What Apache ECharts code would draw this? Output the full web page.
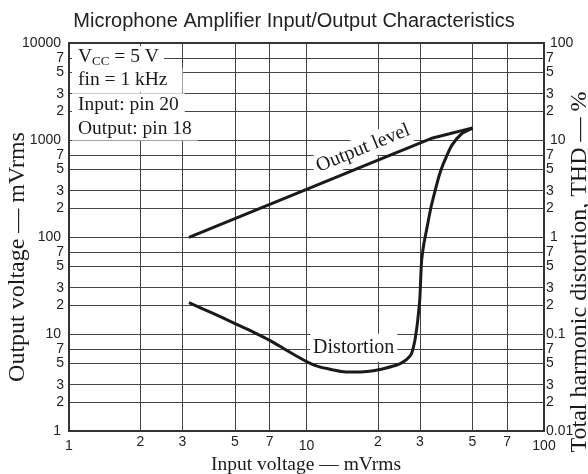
<!DOCTYPE html>
<html>
<head>
<meta charset="utf-8">
<script src="https://cdn.jsdelivr.net/npm/echarts@6/dist/echarts.min.js"></script>
<style>
  html, body { margin: 0; padding: 0; background: #fff; }
  #chart { width: 588px; height: 474px; }
</style>
</head>
<body>
<div id="chart"></div>
<script>
// Output level: input voltage (mVrms) -> output voltage (mVrms)
const outputInput = [3.2, 10, 20, 30, 34, 40, 45, 50];
const outputLevel = [99, 310, 620, 930, 1050, 1160, 1250, 1330];

// Distortion: input voltage (mVrms) -> THD (%)
const thdInput = [3.2, 4, 5, 6, 7, 8, 9, 10, 11, 12.2, 14, 15.7, 18, 20.4, 23, 24.8, 26.5,
                  27.7, 28.6, 29.2, 29.6, 30, 30.5, 31.2, 32.1, 33.4, 34.8, 36.2, 37.7, 40.9, 45, 49, 50];
const thdValue = [0.21, 0.165, 0.128, 0.104, 0.086, 0.071, 0.06, 0.052, 0.047, 0.044, 0.041, 0.0405,
                  0.041, 0.043, 0.0465, 0.0495, 0.055, 0.063, 0.086, 0.12, 0.162, 0.23, 0.55, 0.85,
                  1.22, 2.0, 3.0, 4.3, 5.7, 8.8, 11.6, 12.9, 13.3];

// Grid / tick values
const xTicks = [1, 2, 3, 5, 7, 10, 20, 30, 50, 70, 100];
const yLeftTicks = [1, 2, 3, 5, 7, 10, 20, 30, 50, 70, 100, 200, 300, 500, 700,
                    1000, 2000, 3000, 5000, 7000, 10000];
const yRightTicks = [0.01, 0.02, 0.03, 0.05, 0.07, 0.1, 0.2, 0.3, 0.5, 0.7, 1, 2, 3, 5, 7,
                     10, 20, 30, 50, 70, 100];

// Texts
const chartTitle = 'Microphone Amplifier Input/Output Characteristics';
const xName = 'Input voltage \u2014 mVrms';
const yLeftName = 'Output voltage \u2014 mVrms';
const yRightName = 'Total harmonic distortion, THD \u2014 %';
const condLines = ['fin = 1 kHz', 'Input: pin 20', 'Output: pin 18'];
const outputLabel = 'Output level';
const thdLabel = 'Distortion';

const SANS = '"Liberation Sans", Arial, sans-serif';
const SERIF = '"Liberation Serif", "Times New Roman", serif';
const INK = '#1a1a1a';
const GRID = '#444';

function isDecade(v) {
  const l = Math.log10(v);
  return Math.abs(l - Math.round(l)) < 1e-9;
}
function tickText(v) {
  if (isDecade(v)) return String(+v.toPrecision(3));
  return String(Math.round(v / Math.pow(10, Math.floor(Math.log10(v) + 1e-9))));
}
function edge(v, lo, hi) { return Math.abs(v / lo - 1) < 1e-9 || Math.abs(v / hi - 1) < 1e-9; }

const tickFont = { fontFamily: SANS, fontSize: 14, color: '#222' };
const hiddenLine = { color: 'rgba(0,0,0,0)', width: 0 };

const chart = echarts.init(document.getElementById('chart'), null, { renderer: 'canvas' });

const option = {
  animation: false,
  backgroundColor: '#fff',
  title: {
    text: chartTitle, left: 'center', top: 6,
    textStyle: { fontFamily: SANS, fontSize: 20, fontWeight: 'normal', color: '#222' }
  },
  grid: { left: 69, right: 44, top: 43, bottom: 43, show: true,
          borderColor: '#333', borderWidth: 2, backgroundColor: '#fff' },
  xAxis: { type: 'log', logBase: 10, min: 1, max: 100,
           axisLine: { show: false }, axisTick: { show: false },
           axisLabel: { show: false }, splitLine: { show: false } },
  yAxis: [
    { type: 'log', logBase: 10, min: 1, max: 10000,
      axisLine: { show: false }, axisTick: { show: false },
      axisLabel: { show: false }, splitLine: { show: false } },
    { type: 'log', logBase: 10, min: 0.01, max: 100, position: 'right',
      axisLine: { show: false }, axisTick: { show: false },
      axisLabel: { show: false }, splitLine: { show: false } }
  ],
  series: [
    // vertical grid lines with bottom tick labels
    {
      type: 'line', data: [], z: 1, silent: true,
      markLine: {
        silent: true, symbol: ['none', 'none'], animation: false,
        lineStyle: { type: 'solid', color: GRID, width: 1 },
        data: xTicks.map(v => ({
          xAxis: v,
          lineStyle: edge(v, 1, 100) ? hiddenLine : undefined,
          label: Object.assign({ show: true, position: 'start', distance: isDecade(v) ? 8 : 4,
                                 formatter: tickText(v) }, tickFont)
        }))
      }
    },
    // horizontal grid lines with left tick labels
    {
      type: 'line', data: [], z: 1, silent: true, yAxisIndex: 0,
      markLine: {
        silent: true, symbol: ['none', 'none'], animation: false,
        lineStyle: { type: 'solid', color: GRID, width: 1 },
        data: yLeftTicks.map(v => ({
          yAxis: v,
          lineStyle: edge(v, 1, 10000) ? hiddenLine : undefined,
          label: Object.assign({ show: true, position: 'start', distance: isDecade(v) ? 8 : 5,
                                 formatter: tickText(v) }, tickFont)
        }))
      }
    },
    // right tick labels for THD
    {
      type: 'line', data: [], z: 1, silent: true, yAxisIndex: 1,
      markLine: {
        silent: true, symbol: ['none', 'none'], animation: false,
        lineStyle: hiddenLine,
        data: yRightTicks.map(v => ({
          yAxis: v,
          label: Object.assign({ show: true, position: 'end', distance: (v >= 1 && isDecade(v)) ? 6 : 2,
                                 formatter: tickText(v) }, tickFont)
        }))
      }
    },
    {
      name: outputLabel, type: 'line', z: 10, yAxisIndex: 0,
      showSymbol: false, symbol: 'none',
      lineStyle: { color: INK, width: 3 },
      data: outputInput.map((x, i) => [x, outputLevel[i]])
    },
    {
      name: thdLabel, type: 'line', z: 10, yAxisIndex: 1,
      showSymbol: false, symbol: 'none', smooth: 0.2,
      lineStyle: { color: INK, width: 3 },
      data: thdInput.map((x, i) => [x, thdValue[i]])
    }
  ]
};
chart.setOption(option);

// Annotations placed from data coordinates
const ctx = document.createElement('canvas').getContext('2d');
function textW(str, font) { ctx.font = font; return ctx.measureText(str).width; }

const noteSize = 19.5;
const noteFont = noteSize + 'px ' + SERIF;
const subFont = '13px ' + SERIF;
const noteX = 78;
const baselines = [63.3, 86.7, 111.7, 135];
const notePadRight = [15, 6, 6];
const mid = b => b - 0.33 * noteSize;

const graphics = [];
// V_CC = 5 V
const wV = textW('V', noteFont), wCC = textW('CC', subFont), wRest = textW(' = 5 V', noteFont);
graphics.push({ type: 'rect', z: 5, shape: { x: noteX - 6, y: baselines[0] - 17, width: wV + wCC + wRest + 11, height: 22 },
                style: { fill: '#fff' } });
graphics.push({ type: 'text', z: 6, x: noteX, y: mid(baselines[0]),
                style: { text: 'V', font: noteFont, fill: INK, verticalAlign: 'middle' } });
graphics.push({ type: 'text', z: 6, x: noteX + wV, y: baselines[0] + 2.7 - 0.33 * 13,
                style: { text: 'CC', font: subFont, fill: INK, verticalAlign: 'middle' } });
graphics.push({ type: 'text', z: 6, x: noteX + wV + wCC, y: mid(baselines[0]),
                style: { text: ' = 5 V', font: noteFont, fill: INK, verticalAlign: 'middle' } });
condLines.forEach((t, i) => {
  graphics.push({ type: 'text', z: 6, x: noteX - 6, y: mid(baselines[i + 1]),
                  style: { text: t, font: noteFont, fill: INK, verticalAlign: 'middle',
                           backgroundColor: '#fff', padding: [2, notePadRight[i], 2, 6] } });
});

// Output level label, aligned with the output line
const pA = chart.convertToPixel({ xAxisIndex: 0, yAxisIndex: 0 }, [outputInput[0], outputLevel[0]]);
const pB = chart.convertToPixel({ xAxisIndex: 0, yAxisIndex: 0 }, [outputInput[3], outputLevel[3]]);
const ang = Math.atan2(pA[1] - pB[1], pB[0] - pA[0]);
const pOut = chart.convertToPixel({ xAxisIndex: 0, yAxisIndex: 0 }, [17.3, 821]);
graphics.push({ type: 'text', z: 6, x: pOut[0], y: pOut[1], rotation: ang,
                style: { text: outputLabel, font: '20px ' + SERIF, fill: INK, align: 'center', verticalAlign: 'middle',
                         backgroundColor: '#fff', padding: [2, 4] } });

// Distortion label
const pThd = chart.convertToPixel({ xAxisIndex: 0, yAxisIndex: 1 }, [15.8, 0.072]);
graphics.push({ type: 'text', z: 6, x: pThd[0], y: pThd[1],
                style: { text: thdLabel, font: '20px ' + SERIF, fill: INK, align: 'center', verticalAlign: 'middle',
                         backgroundColor: '#fff', padding: [4, 3] } });

// Axis names
graphics.push({ type: 'text', z: 6, x: 306, y: 465,
                style: { text: xName, font: '19.5px ' + SERIF, fill: INK, align: 'center', verticalAlign: 'middle' } });
graphics.push({ type: 'text', z: 6, x: 18, y: 257, rotation: Math.PI / 2,
                style: { text: yLeftName, font: '24px ' + SERIF, fill: INK, align: 'center', verticalAlign: 'middle' } });
graphics.push({ type: 'text', z: 6, x: 580, y: 272, rotation: Math.PI / 2,
                style: { text: yRightName, font: '24px ' + SERIF, fill: INK, align: 'center', verticalAlign: 'middle' } });

chart.setOption({ graphic: graphics });
</script>
</body>
</html>
